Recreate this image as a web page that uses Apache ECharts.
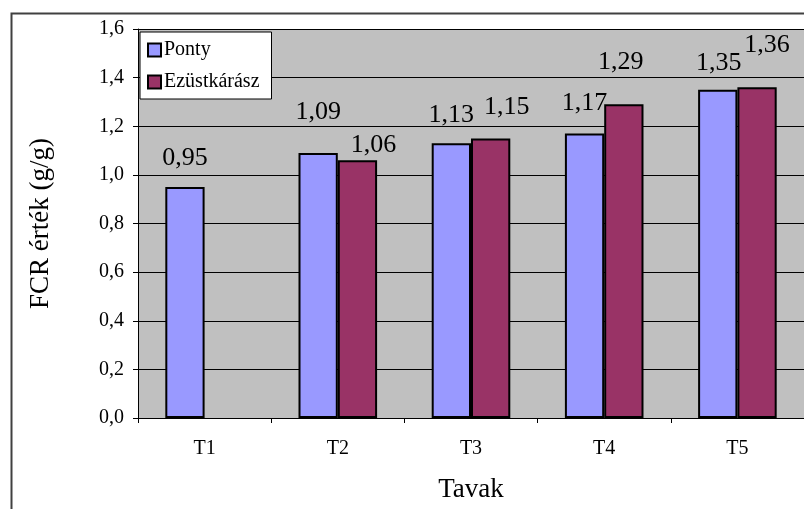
<!DOCTYPE html>
<html>
<head>
<meta charset="utf-8">
<script src="https://cdn.jsdelivr.net/npm/echarts@6/dist/echarts.min.js"></script>
<style>html,body{margin:0;padding:0;background:#fff;}#c{width:804px;height:509px;}</style>
</head>
<body>
<div id="c"></div>
<script>
const categories = ['T1', 'T2', 'T3', 'T4', 'T5'];
const pontyValues = [0.95, 1.09, 1.13, 1.17, 1.35];
const ezustValues = [null, 1.06, 1.15, 1.29, 1.36];
const seriesNames = ['Ponty', 'Ezüstkárász'];
const yTicks = [0, 0.2, 0.4, 0.6, 0.8, 1.0, 1.2, 1.4, 1.6];

// label placement tweaks (style, not data)
const pontyLabelOffsets = [[0, -11], [0, -23], [0, -10], [0, -12], [1, -9]];
const ezustLabelOffsets = [[0, 0], [16, 3], [16, -13], [-3, -24], [10, -24]];

const FONT = "'Liberation Serif', 'Times New Roman', serif";
const fmt = v => v.toFixed(2).replace('.', ',');

function buildData(vals, offs) {
  return vals.map((v, i) => v == null ? null : ({ value: v, label: { offset: offs[i] } }));
}

const chart = echarts.init(document.getElementById('c'), null, { renderer: 'canvas' });
chart.setOption({
  animation: false,
  backgroundColor: '#ffffff',
  textStyle: { fontFamily: FONT, color: '#000' },
  graphic: [{
    type: 'rect', left: 9, top: 11,
    shape: { x: 0, y: 0, width: 820, height: 520 },
    style: { fill: 'none', stroke: '#404040', lineWidth: 2 }, z: -1
  }],
  grid: {
    left: 138, top: 29, right: -12, bottom: 91,
    show: true, backgroundColor: '#c0c0c0', borderWidth: 0
  },
  legend: {
    orient: 'vertical', left: 140, top: 32,
    backgroundColor: '#ffffff', borderColor: '#000', borderWidth: 1,
    padding: [8, 12, 7, 7], itemGap: 12, itemWidth: 13, itemHeight: 13,
    icon: 'rect',
    textStyle: { fontFamily: FONT, fontSize: 20, color: '#000', padding: [0, 0, 0, -2] },
    itemStyle: { borderColor: '#000', borderWidth: 2 },
    data: seriesNames
  },
  xAxis: {
    type: 'category', data: categories,
    name: 'Tavak', nameLocation: 'middle', nameGap: 58,
    nameTextStyle: { fontFamily: FONT, fontSize: 27, color: '#000' },
    axisLine: { lineStyle: { color: '#000', width: 1 } },
    axisTick: { show: true, alignWithLabel: false, length: 5, lineStyle: { color: '#000' } },
    axisLabel: { fontFamily: FONT, fontSize: 20, color: '#000', margin: 21 },
    splitLine: { show: false }
  },
  yAxis: {
    type: 'value', min: 0, max: 1.6, interval: 0.2,
    name: 'FCR érték (g/g)', nameLocation: 'middle', nameGap: 84,
    nameTextStyle: { fontFamily: FONT, fontSize: 27, color: '#000' },
    axisLine: { show: true, lineStyle: { color: '#000', width: 1 } },
    axisTick: { show: true, length: 5, lineStyle: { color: '#000' } },
    axisLabel: {
      fontFamily: FONT, fontSize: 20, color: '#000', margin: 14,
      formatter: v => { const t = yTicks.find(x => Math.abs(x - v) < 1e-9); return (t != null ? t : v).toFixed(1).replace('.', ','); }
    },
    splitLine: { show: true, lineStyle: { color: '#000', width: 1 } }
  },
  series: [
    {
      name: seriesNames[0], type: 'bar', data: buildData(pontyValues, pontyLabelOffsets),
      barGap: '0%', barCategoryGap: '41%',
      itemStyle: { color: '#9999ff', borderColor: '#000', borderWidth: 2 },
      label: { show: true, position: 'top', distance: 5, fontFamily: FONT, fontSize: 26, color: '#000', formatter: p => fmt(p.value) }
    },
    {
      name: seriesNames[1], type: 'bar', data: buildData(ezustValues, ezustLabelOffsets),
      barGap: '0%', barCategoryGap: '41%',
      itemStyle: { color: '#993366', borderColor: '#000', borderWidth: 2 },
      label: { show: true, position: 'top', distance: 5, fontFamily: FONT, fontSize: 26, color: '#000', formatter: p => fmt(p.value) }
    }
  ]
});
</script>
</body>
</html>
